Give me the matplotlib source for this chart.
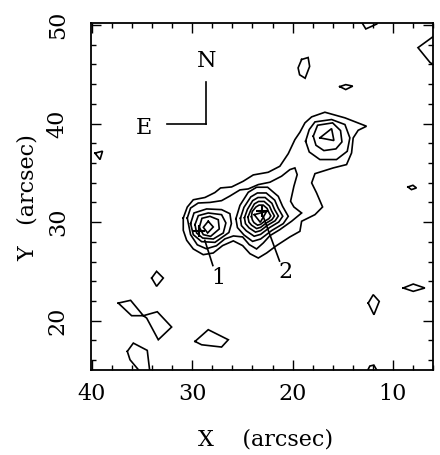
import matplotlib
matplotlib.use("Agg")
import matplotlib.pyplot as plt
from matplotlib.ticker import MultipleLocator

plt.rcParams['font.family'] = ['DejaVu Serif']

# ---- contour lines (X, Y in arcsec), read from the map ----
# lowest level: envelope of both sources and the NE knot
level1_main = [(30.90, 30.42), (30.50, 31.53), (29.90, 32.27), (28.74, 32.50), (27.75, 33.00),
               (27.18, 33.47), (26.08, 33.57), (24.92, 34.15), (23.92, 34.79), (22.43, 35.06),
               (21.27, 35.67), (20.43, 36.95), (19.77, 38.37), (19.27, 39.12), (18.77, 40.07),
               (18.10, 40.68), (16.78, 41.15), (14.78, 40.58), (12.63, 39.73), (13.46, 39.32),
               (13.96, 38.54), (14.12, 37.02), (14.62, 35.84), (15.95, 35.50), (17.77, 34.92),
               (18.10, 33.98), (17.61, 32.97), (17.01, 31.54), (17.77, 30.76), (19.10, 30.09),
               (19.27, 29.07), (20.27, 28.50), (21.60, 27.62), (22.59, 26.87), (23.42, 26.36),
               (24.25, 26.80), (24.98, 27.62), (25.91, 28.10), (26.98, 27.62), (27.91, 26.87),
               (28.91, 26.70), (29.90, 27.28), (30.56, 28.16), (30.90, 29.17)]
# second level: encloses sources 1 and 2
level2_main = [(30.50, 30.42), (30.17, 31.43), (29.41, 31.94), (28.24, 32.00), (27.08, 32.18),
               (26.25, 32.65), (25.25, 33.27), (24.42, 33.37), (23.42, 33.81), (22.26, 34.05),
               (21.10, 34.66), (20.27, 35.33), (19.77, 35.50), (19.54, 34.82), (19.87, 33.64),
               (20.20, 32.12), (19.87, 31.54), (19.10, 30.93), (20.10, 30.09), (21.27, 29.24),
               (22.26, 28.63), (22.92, 27.89), (23.59, 27.28), (24.32, 27.72), (24.98, 28.50),
               (25.90, 28.60), (26.75, 28.30), (27.60, 27.60), (28.60, 27.30), (29.50, 27.70),
               (30.17, 28.73)]
# source 1 (own contours, outer to inner)
src1_c4 = [(30.17, 29.85), (29.83, 30.93), (28.57, 31.34), (27.08, 31.27), (26.25, 30.86),
           (26.10, 29.85), (26.35, 28.95), (27.74, 27.95), (29.07, 28.02), (29.90, 28.73)]
src1_c3 = [(29.73, 29.75), (29.40, 30.66), (28.41, 30.93), (27.08, 30.76), (26.65, 29.92),
           (26.91, 28.90), (27.91, 28.29), (28.97, 28.39), (29.57, 28.90)]
src1_c2 = [(29.30, 29.48), (29.04, 30.39), (28.24, 30.59), (27.41, 30.25), (27.31, 29.31),
           (28.17, 28.56), (28.90, 28.73)]
src1_c1 = [(28.41, 30.09), (27.91, 29.51), (28.47, 28.90), (28.90, 29.48)]
# source 2 (own contours, outer to inner)
src2_c3 = [(25.65, 30.35), (25.25, 31.70), (24.42, 33.03), (23.59, 33.54), (22.49, 33.54),
           (21.43, 32.62), (21.00, 31.61), (20.43, 30.59), (20.93, 29.85), (22.09, 29.14),
           (23.19, 28.29), (23.99, 28.05), (24.85, 28.70), (25.50, 29.45)]
src2_c4 = [(25.20, 30.40), (24.85, 31.50), (24.17, 32.56), (23.51, 32.96), (22.63, 32.96),
           (21.78, 32.23), (21.44, 31.42), (20.98, 30.60), (21.38, 30.01), (22.31, 29.44),
           (23.19, 28.76), (23.83, 28.57), (24.62, 29.12), (25.10, 29.65)]
src2_c5 = [(24.80, 30.45), (24.50, 31.30), (23.98, 32.18), (23.45, 32.50), (22.74, 32.50),
           (22.06, 31.91), (21.79, 31.27), (21.42, 30.62), (21.74, 30.14), (22.49, 29.69),
           (23.19, 29.14), (23.70, 28.99), (24.34, 29.42), (24.70, 29.85)]
src2_c6 = [(24.45, 30.50), (24.20, 31.15), (23.81, 31.85), (23.39, 32.10), (22.84, 32.10),
           (22.31, 31.64), (22.09, 31.14), (21.81, 30.62), (22.06, 30.25), (22.64, 29.90),
           (23.19, 29.47), (23.59, 29.35), (24.09, 29.69), (24.35, 30.00)]
src2_c7 = [(24.10, 30.55), (24.03, 31.07), (23.65, 31.54), (23.34, 31.73), (22.93, 31.73),
           (22.54, 31.39), (22.38, 31.01), (22.17, 30.63), (22.35, 30.36), (22.78, 30.10),
           (23.19, 29.78), (23.49, 29.69), (23.85, 29.95), (24.00, 30.20)]
src2_c8 = [(23.82, 30.76), (22.59, 31.10), (23.22, 29.98)]
# NE knot
ne_c2 = [(18.70, 38.21), (18.34, 39.39), (17.77, 40.17), (16.11, 40.41), (14.78, 39.90),
         (14.29, 38.55), (14.55, 37.19), (15.62, 36.35), (17.28, 36.35), (18.34, 37.12)]
ne_c3 = [(17.94, 38.72), (17.51, 39.83), (16.01, 40.07), (15.22, 39.29), (15.08, 38.14),
         (15.68, 37.43), (16.88, 37.26), (17.67, 37.80)]
ne_c4 = [(17.28, 38.55), (16.11, 39.49), (15.88, 38.28)]
# isolated lowest-level islands
blob_top = [(13.3, 50.6), (12.7, 49.6), (11.6, 50.1), (11.4, 50.6)]
blob_right = [(5.4, 49.3), (6.15, 48.7), (7.5, 47.7), (6.3, 46.2), (5.4, 45.6)]
blob_a = [(19.1, 46.5), (18.45, 46.7), (18.3, 45.8), (18.75, 44.6), (19.3, 44.95), (19.45, 45.65)]
blob_b = [(15.3, 43.75), (14.7, 43.95), (14.0, 43.8), (14.7, 43.45)]
blob_c = [(39.7, 37.0), (38.95, 37.2), (39.2, 36.35)]
blob_d = [(8.5, 33.57), (8.0, 33.74), (7.65, 33.47), (8.15, 33.3)]
blob_e = [(34.05, 24.33), (33.56, 25.01), (32.89, 24.33), (33.56, 23.49)]
blob_f = [(8.97, 23.32), (7.97, 23.72), (6.81, 23.32), (7.97, 22.98)]
blob_g = [(12.46, 21.79), (11.96, 22.64), (11.36, 21.96), (11.89, 20.61)]
blob_h = [(37.38, 21.79), (36.15, 22.07), (34.88, 20.51), (33.49, 20.91), (32.06, 19.36),
          (33.39, 18.07), (34.55, 20.27), (34.88, 20.51), (36.05, 20.51)]
blob_i = [(29.73, 17.90), (28.41, 19.09), (26.41, 18.07), (27.08, 17.33), (29.07, 17.56)]
blob_j = [(36.48, 16.89), (35.88, 17.73), (34.49, 16.99), (34.22, 14.7), (35.1, 14.7), (36.21, 16.04)]
blob_k = [(12.6, 14.8), (12.3, 15.4), (11.9, 15.5), (11.5, 14.8)]

contours = [level1_main, level2_main, src1_c4, src1_c3, src1_c2, src1_c1,
            src2_c3, src2_c4, src2_c5, src2_c6, src2_c7, src2_c8,
            ne_c2, ne_c3, ne_c4,
            blob_top, blob_right, blob_a, blob_b, blob_c, blob_d, blob_e,
            blob_f, blob_g, blob_h, blob_i, blob_j, blob_k]

# source positions, labels and leaders
src_x = [29.3, 23.09]
src_y = [29.15, 31.10]
src_labels = ["1", "2"]
label_x = [27.35, 20.70]
label_y = [24.35, 24.95]
leader_start = [(28.75, 28.15), (22.92, 30.55)]
leader_end = [(27.95, 25.60), (21.30, 26.05)]

# compass
compass_corner = (28.64, 40.0)
compass_n_end = 44.2
compass_e_end = 32.5

x_ticks = [40, 30, 20, 10]
y_ticks = [20, 30, 40, 50]

fig = plt.figure(figsize=(4.4, 4.55), dpi=100)
ax = fig.add_axes([0.2068, 0.1868, 0.7773, 0.7626])

for c in contours:
    xs = [p[0] for p in c] + [c[0][0]]
    ys = [p[1] for p in c] + [c[0][1]]
    ax.plot(xs, ys, color='black', lw=1.2, solid_joinstyle='miter')

ax.plot(src_x, src_y, linestyle='none', marker='+', ms=9, mew=1.5, color='black')
for (x0, y0), (x1, y1) in zip(leader_start, leader_end):
    ax.plot([x0, x1], [y0, y1], color='black', lw=1.2)
for t, x, y in zip(src_labels, label_x, label_y):
    ax.text(x, y, t, ha='center', va='center', fontsize=16)

cx, cy = compass_corner
ax.plot([cx, cx], [cy, compass_n_end], color='black', lw=1.2)
ax.plot([compass_e_end, cx], [cy, cy], color='black', lw=1.2)
ax.text(28.57, 46.33, "N", ha='center', va='center', fontsize=16)
ax.text(34.82, 39.56, "E", ha='center', va='center', fontsize=16)

ax.set_xlim(40.1, 6.0)
ax.set_ylim(15.0, 50.2)
ax.set_xticks(x_ticks)
ax.set_yticks(y_ticks)
ax.xaxis.set_minor_locator(MultipleLocator(2))
ax.yaxis.set_minor_locator(MultipleLocator(2))
ax.tick_params(which='both', direction='in', top=True, right=True, width=1.0)
ax.tick_params(which='major', length=7)
ax.tick_params(which='minor', length=3.5)
ax.tick_params(axis='x', labelsize=16, pad=9)
ax.tick_params(axis='y', labelsize=16, pad=16, labelrotation=90)
for lab in ax.get_yticklabels():
    lab.set_va('center')
for s in ax.spines.values():
    s.set_linewidth(1.3)

ax.set_xlabel("X    (arcsec)", fontsize=16)
ax.xaxis.label.set_va('center')
ax.xaxis.set_label_coords(0.509, -0.2017)
ax.set_ylabel("Y   (arcsec)", fontsize=16)
ax.yaxis.label.set_va('center')
ax.yaxis.set_label_coords(-0.185, 0.496)

fig.savefig("out.png", dpi=100)
